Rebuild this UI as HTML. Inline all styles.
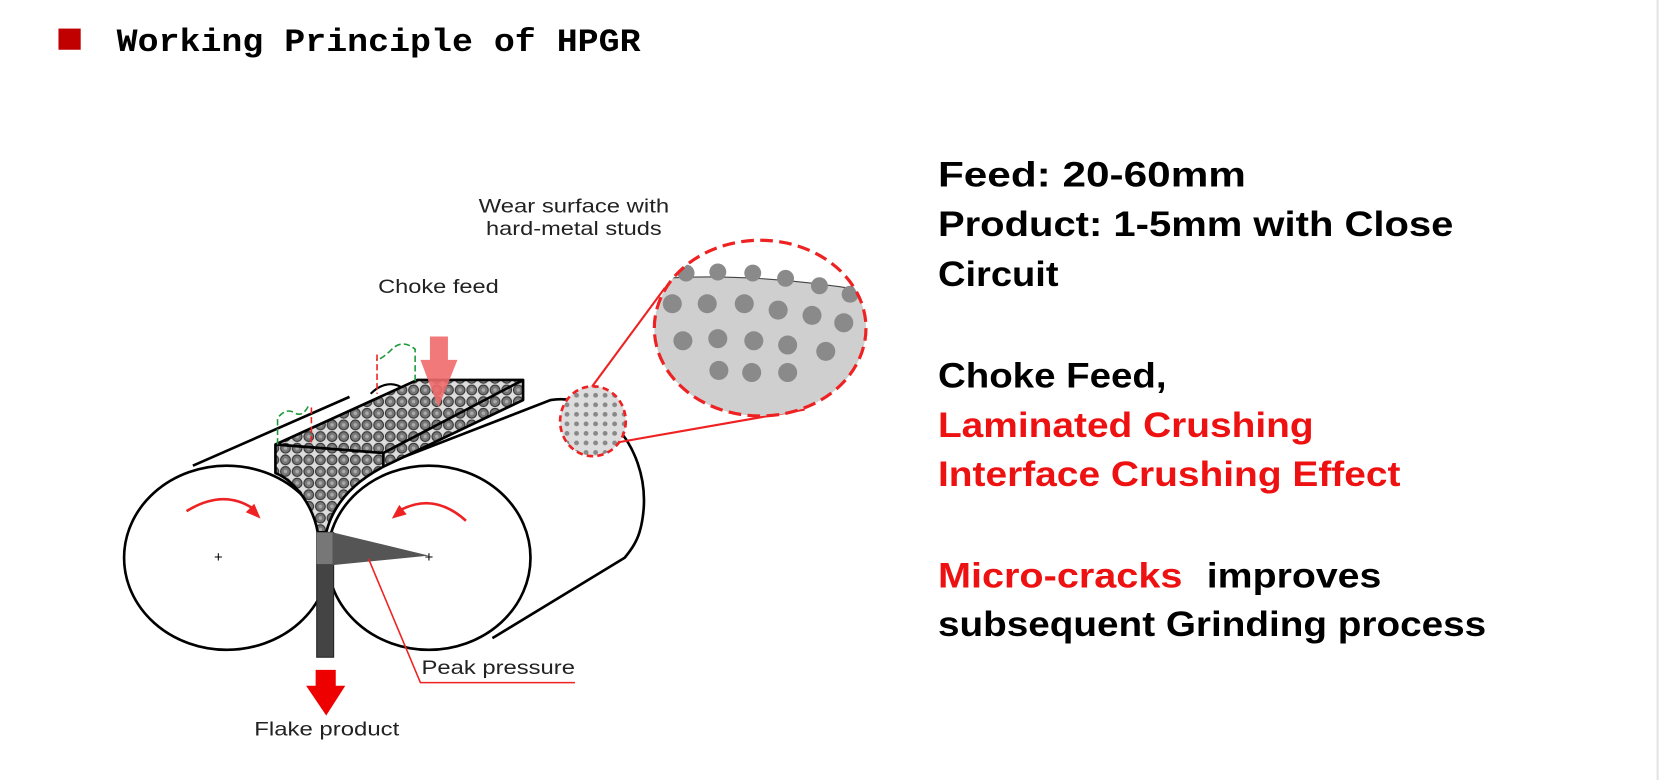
<!DOCTYPE html>
<html><head><meta charset="utf-8"><style>
html,body{margin:0;padding:0;background:#fff;width:1660px;height:780px;overflow:hidden}
svg{display:block}
</style></head><body>
<svg width="1660" height="780" viewBox="0 0 1568 737" xmlns="http://www.w3.org/2000/svg">
<defs>
<pattern id="peb" width="11" height="11" patternUnits="userSpaceOnUse">
<rect width="11" height="11" fill="#ddd"/>
<circle cx="5.5" cy="5.5" r="4.6" fill="#777" stroke="#333" stroke-width="1"/>
<circle cx="5.5" cy="5.5" r="1.7" fill="#aaa"/>
</pattern>
<pattern id="dots" width="9" height="9" patternUnits="userSpaceOnUse">
<rect width="9" height="9" fill="#ddd"/>
<circle cx="4.5" cy="4.5" r="2.3" fill="#888"/>
</pattern>
</defs>
<rect x="1565" y="0" width="2" height="737" fill="#e4e4e4"/>
<rect x="55" y="27" width="21" height="20" fill="#c00000"/>
<text x="110" y="48" font-family="Liberation Mono, monospace" font-weight="bold" font-size="31" textLength="495" lengthAdjust="spacingAndGlyphs">Working Principle of HPGR</text>

<g font-family="Liberation Sans, sans-serif" font-weight="bold" font-size="33">
<text x="886" y="176" textLength="291" lengthAdjust="spacingAndGlyphs">Feed:  20-60mm</text>
<text x="886" y="223" textLength="487" lengthAdjust="spacingAndGlyphs">Product: 1-5mm with Close</text>
<text x="886" y="270" textLength="114" lengthAdjust="spacingAndGlyphs">Circuit</text>
<text x="886" y="366" textLength="216" lengthAdjust="spacingAndGlyphs">Choke Feed,</text>
<text x="886" y="413" fill="#ee1111" textLength="355" lengthAdjust="spacingAndGlyphs">Laminated Crushing</text>
<text x="886" y="459" fill="#ee1111" textLength="437" lengthAdjust="spacingAndGlyphs">Interface Crushing Effect</text>
<text x="886" y="555" fill="#ee1111" textLength="231" lengthAdjust="spacingAndGlyphs">Micro-cracks</text>
<text x="1140" y="555" textLength="165" lengthAdjust="spacingAndGlyphs">improves</text>
<text x="886" y="601" textLength="518" lengthAdjust="spacingAndGlyphs">subsequent Grinding process</text>
</g>

<!-- cylinders back -->
<path d="M360,440 L520,378 C565,370 612,420 608,480 C606,505 600,515 590,527 L465,603" fill="#fff" stroke="#000" stroke-width="2.5"/>
<line x1="182" y1="440" x2="330" y2="375" stroke="#000" stroke-width="2.5"/>
<path d="M350,372 C360,362 372,360 382,368" fill="none" stroke="#000" stroke-width="2"/>
<ellipse cx="405" cy="527" rx="96" ry="87" fill="#fff" stroke="#000" stroke-width="2.5"/>
<ellipse cx="214" cy="527" rx="97" ry="87" fill="#fff" stroke="#000" stroke-width="2.5"/>
<!-- material -->
<path d="M260,420 L394,359 L494,359 L494,378 L362,441 C335,455 315,475 308,503 L300,503 C296,480 280,455 260,447 Z" fill="url(#peb)" stroke="#000" stroke-width="2.5" stroke-linejoin="round"/>
<path d="M260,420 L362,428 L494,359 M362,428 L362,441" fill="none" stroke="#000" stroke-width="2.5"/>
<rect x="299" y="503" width="16" height="118" fill="#444" stroke="#222"/>
<rect x="299" y="503" width="16" height="30" fill="#777"/>
<path d="M314,503 L405,525 L314,534 Z" fill="#555"/>
<text x="202" y="531" font-family="Liberation Sans, sans-serif" font-size="14">+</text>
<text x="401" y="531" font-family="Liberation Sans, sans-serif" font-size="14">+</text>
<!-- rotation arrows -->
<path d="M176,483 Q210,462 238,480" fill="none" stroke="#e22" stroke-width="2.5"/>
<path d="M246,490 L232,484 L240,476 Z" fill="#e22"/>
<path d="M440,492 Q410,465 378,482" fill="none" stroke="#e22" stroke-width="2.5"/>
<path d="M370,490 L384,486 L377,477 Z" fill="#e22"/>
<!-- squiggles -->
<path d="M262,420 L262,395 Q270,385 278,390 T292,382" fill="none" stroke="#1a9a3a" stroke-width="1.5" stroke-dasharray="6 3"/>
<line x1="294" y1="385" x2="294" y2="420" stroke="#e22" stroke-width="1.5" stroke-dasharray="6 3"/>
<path d="M392,360 L392,330 Q380,320 370,330 T355,340" fill="none" stroke="#1a9a3a" stroke-width="1.5" stroke-dasharray="6 3"/>
<line x1="356" y1="335" x2="356" y2="372" stroke="#e22" stroke-width="1.5" stroke-dasharray="6 3"/>
<!-- choke feed arrow -->
<path d="M406,318 L423,318 L423,340 L432,340 L414,385 L397,340 L406,340 Z" fill="#f06a6a" fill-opacity="0.9"/>
<!-- flake arrow -->
<path d="M298,633 L317,633 L317,648 L326,648 L308,676 L289,648 L298,648 Z" fill="#ee0000"/>
<polyline points="348,528 397,645 543,645" fill="none" stroke="#e22" stroke-width="1.5"/>
<g font-family="Liberation Sans, sans-serif" font-size="18" fill="#222">
<text x="357" y="277" textLength="114" lengthAdjust="spacingAndGlyphs">Choke feed</text>
<text x="452" y="201" textLength="180" lengthAdjust="spacingAndGlyphs">Wear surface with</text>
<text x="459" y="222" textLength="166" lengthAdjust="spacingAndGlyphs">hard-metal studs</text>
<text x="398" y="637" textLength="145" lengthAdjust="spacingAndGlyphs">Peak pressure</text>
<text x="240" y="695" textLength="137" lengthAdjust="spacingAndGlyphs">Flake product</text>
</g>
<!-- zoom callout -->
<line x1="535" y1="398" x2="628" y2="272" stroke="#e22" stroke-width="2"/>
<line x1="572" y1="420" x2="760" y2="387" stroke="#e22" stroke-width="2"/>
<ellipse cx="560" cy="398" rx="31" ry="33" fill="url(#dots)"/>
<ellipse cx="560" cy="398" rx="31" ry="33" fill="none" stroke="#e22" stroke-width="2.5" stroke-dasharray="6 4"/>
<clipPath id="bc"><ellipse cx="718" cy="310" rx="100" ry="83"/></clipPath>
<g clip-path="url(#bc)">
<path d="M600,265 Q700,255 820,275 L820,400 L600,400 Z" fill="#cfcfcf" stroke="#444" stroke-width="1"/>
<g fill="#8a8a8a">
<circle cx="648" cy="258" r="8"/><circle cx="678" cy="257" r="8"/><circle cx="711" cy="258" r="8"/><circle cx="742" cy="263" r="8"/><circle cx="774" cy="270" r="8"/><circle cx="803" cy="278" r="8"/>
<circle cx="635" cy="287" r="9"/><circle cx="668" cy="287" r="9"/><circle cx="703" cy="287" r="9"/><circle cx="735" cy="293" r="9"/><circle cx="767" cy="298" r="9"/><circle cx="797" cy="305" r="9"/>
<circle cx="645" cy="322" r="9"/><circle cx="678" cy="320" r="9"/><circle cx="712" cy="322" r="9"/><circle cx="744" cy="326" r="9"/><circle cx="780" cy="332" r="9"/>
<circle cx="679" cy="350" r="9"/><circle cx="710" cy="352" r="9"/><circle cx="744" cy="352" r="9"/>
</g>
</g>
<ellipse cx="718" cy="310" rx="100" ry="83" fill="none" stroke="#e22" stroke-width="3" stroke-dasharray="12 6"/>
</svg>
</body></html>
